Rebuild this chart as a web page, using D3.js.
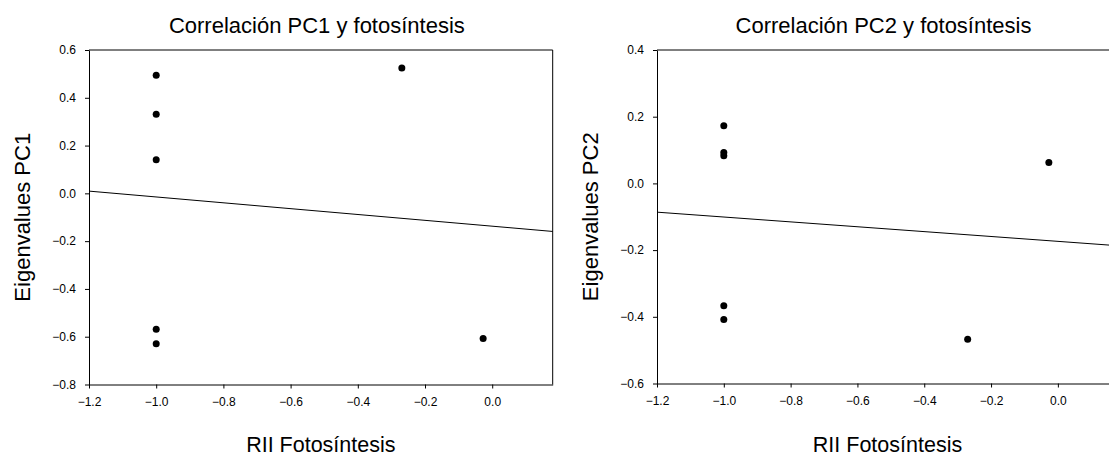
<!DOCTYPE html>
<html>
<head>
<meta charset="utf-8">
<script src="https://cdn.jsdelivr.net/npm/d3@7"></script>
<style>
  html, body { margin: 0; padding: 0; background: #fff; overflow: hidden; }
  svg { display: block; }
  text { font-family: "Liberation Sans", Arial, sans-serif; fill: #000; }
</style>
</head>
<body>
<svg id="chart" width="1109" height="459"></svg>
<script>
// ---- Data ----
const rii = [-1.0, -1.0, -1.0, -1.0, -1.0, -0.269, -0.027];
const pc1 = [0.494, 0.331, 0.141, -0.569, -0.629, 0.525, -0.607];
const riiPC2 = [-1.0, -1.0, -1.0, -1.0, -1.0, -0.270, -0.027];
const pc2 = [0.173, 0.093, 0.083, -0.367, -0.408, -0.467, 0.063];

const xTicks = [-1.2, -1.0, -0.8, -0.6, -0.4, -0.2, 0.0];
const yTicksPC1 = [0.6, 0.4, 0.2, 0.0, -0.2, -0.4, -0.6, -0.8];
const yTicksPC2 = [0.4, 0.2, 0.0, -0.2, -0.4, -0.6];

const titles = ["Correlación PC1 y fotosíntesis", "Correlación PC2 y fotosíntesis"];
const yTitles = ["Eigenvalues PC1", "Eigenvalues PC2"];
const xTitle = "RII Fotosíntesis";

const svg = d3.select("#chart");
const fmt = d3.format(".1f");
const FONT = '"Liberation Sans", Arial, sans-serif';

function linfit(xs, ys) {
  const mx = d3.mean(xs), my = d3.mean(ys);
  let sxy = 0, sxx = 0;
  xs.forEach((x, i) => { sxy += (x - mx) * (ys[i] - my); sxx += (x - mx) * (x - mx); });
  const b = sxy / sxx;
  return { b, a: my - b * mx };
}

function panel(cfg) {
  const x = d3.scaleLinear().domain(cfg.xDomain).range(cfg.xRange);
  const y = d3.scaleLinear().domain(cfg.yDomain).range(cfg.yRange);
  const g = svg.append("g");
  const [x0, x1] = cfg.xRange;
  const [yb, yt] = cfg.yRange;

  // frame: top & right
  g.append("line").attr("x1", x0).attr("x2", x1).attr("y1", yt).attr("y2", yt)
    .attr("stroke", "#000").attr("stroke-width", 1);
  g.append("line").attr("x1", x1).attr("x2", x1).attr("y1", yt).attr("y2", yb)
    .attr("stroke", "#000").attr("stroke-width", 1);

  // left axis
  const ay = g.append("g").attr("transform", `translate(${x0},0)`)
    .call(d3.axisLeft(y).tickValues(cfg.yTicks).tickFormat(fmt).tickSizeOuter(0).tickSizeInner(4).tickPadding(9));
  ay.selectAll("text").style("font-size", "12px").style("font-family", FONT);

  // bottom axis
  const ax = g.append("g").attr("transform", `translate(0,${yb})`)
    .call(d3.axisBottom(x).tickValues(xTicks).tickFormat(fmt).tickSizeOuter(0).tickSizeInner(4).tickPadding(9));
  ax.selectAll("text").style("font-size", "12px").style("font-family", FONT);

  // regression line
  const fit = linfit(cfg.xs, cfg.ys);
  const xa = cfg.xDomain[0], xb = cfg.xDomain[1];
  g.append("line")
    .attr("x1", x(xa)).attr("y1", y(fit.a + fit.b * xa))
    .attr("x2", x(xb)).attr("y2", y(fit.a + fit.b * xb))
    .attr("stroke", "#000").attr("stroke-width", 1);

  // points
  g.selectAll("circle.pt").data(cfg.xs.map((v, i) => [v, cfg.ys[i]]))
    .enter().append("circle").attr("class", "pt")
    .attr("cx", d => x(d[0])).attr("cy", d => y(d[1])).attr("r", 3.5).attr("fill", "#000");

  const cx = (x0 + x1) / 2;
  g.append("text").attr("x", cx - 4).attr("y", 32.5).attr("text-anchor", "middle")
    .style("font-size", "22px").text(cfg.title);
  g.append("text").attr("x", cx).attr("y", 452).attr("text-anchor", "middle")
    .style("font-size", "21.5px").text(xTitle);
  g.append("text")
    .attr("transform", `translate(${x0 - 59},${(yb + yt) / 2}) rotate(-90)`)
    .attr("text-anchor", "middle").style("font-size", "22px").text(cfg.yTitle);
}

panel({
  xs: rii, ys: pc1, xDomain: [-1.2, 0.18], xRange: [89, 552.7],
  yDomain: [-0.8, 0.6], yRange: [384.5, 50], yTicks: yTicksPC1,
  title: titles[0], yTitle: yTitles[0]
});
panel({
  xs: riiPC2, ys: pc2, xDomain: [-1.2, 0.18], xRange: [657, 1118],
  yDomain: [-0.6, 0.4], yRange: [383.5, 50], yTicks: yTicksPC2,
  title: titles[1], yTitle: yTitles[1]
});
</script>
</body>
</html>
